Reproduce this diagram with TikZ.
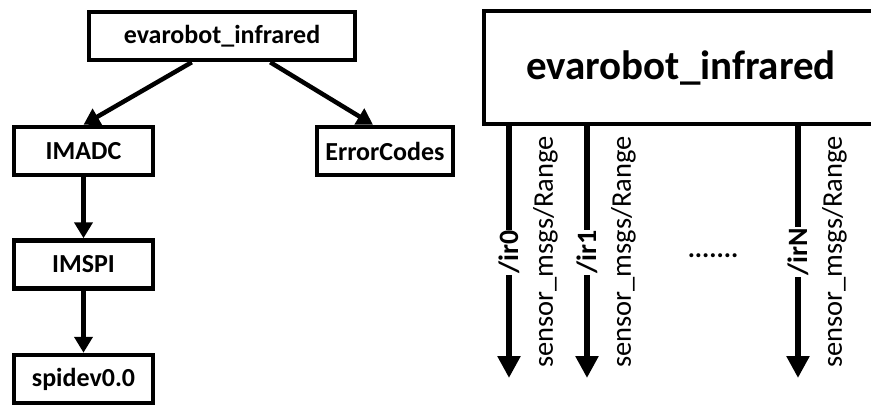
\documentclass[tikz,border=0pt]{standalone}
\usepackage{fontspec}
\setmainfont{Carlito}
\usepackage{tikz}
\usetikzlibrary{positioning,arrows.meta}

\begin{document}
\begin{tikzpicture}[x=1pt,y=-1pt,
    pkg/.style={draw,line width=4.5pt,rectangle,inner sep=0pt,minimum height=48pt,font=\fontsize{26}{30}\selectfont\bfseries},
    dep/.style={line width=4.5pt,-{Triangle[length=16pt,width=18pt]}},
    topic/.style={line width=6pt,-{Triangle[length=22pt,width=22pt]}},
    irlab/.style={rotate=90,fill=white,inner xsep=1pt,inner ysep=0pt,font=\fontsize{28}{30}\selectfont\bfseries},
    msglab/.style={rotate=90,anchor=north,inner sep=0pt,outer ysep=24pt,font=\fontsize{28.5}{30}\selectfont}]
      \clip (0,0) rectangle (871,407);
      % package dependencies
      \node[pkg,minimum width=266pt](top) at (222,36){evarobot\_infrared};
      \node[pkg,minimum width=139pt](imadc) at (83.5,151){IMADC};
      \node[pkg,minimum width=136pt](errcodes) at (385,151){ErrorCodes};
      \node[pkg,minimum width=139pt](imspi) at (83.5,264.5){IMSPI};
      \node[pkg,minimum width=139pt](spidev) at (83.5,379){spidev0.0};
      \draw[dep] ([xshift=105pt]top.south west) -- (imadc.north);
      \draw[dep] ([xshift=-87pt]top.south east) -- ([xshift=-12pt]errcodes.north);
      \draw[dep] (imadc.south) -- (imspi.north);
      \draw[dep] (imspi.south) -- (spidev.north);
      % node with its topics
      \node[draw,line width=4.5pt,rectangle,inner sep=0pt,minimum width=394pt,minimum height=113pt,
        font=\fontsize{41}{48}\selectfont\bfseries](robot) at (681,67.5){evarobot\_infrared};
      \coordinate (ir0) at (509,378);
      \coordinate (ir1) at (587,378);
      \coordinate (irN) at (798,378);
      \draw[topic] (robot.south -| ir0) -- node[irlab]{/ir0} node[msglab]{sensor\_msgs/Range} (ir0);
      \draw[topic] (robot.south -| ir1) -- node[irlab]{/ir1} node[msglab]{sensor\_msgs/Range} (ir1);
      \draw[topic] (robot.south -| irN) -- node[irlab]{/irN} node[msglab]{sensor\_msgs/Range} (irN);
      \node[font=\fontsize{27}{30}\selectfont\bfseries](dots) at (713,256){.......};
\end{tikzpicture}
\end{document}
